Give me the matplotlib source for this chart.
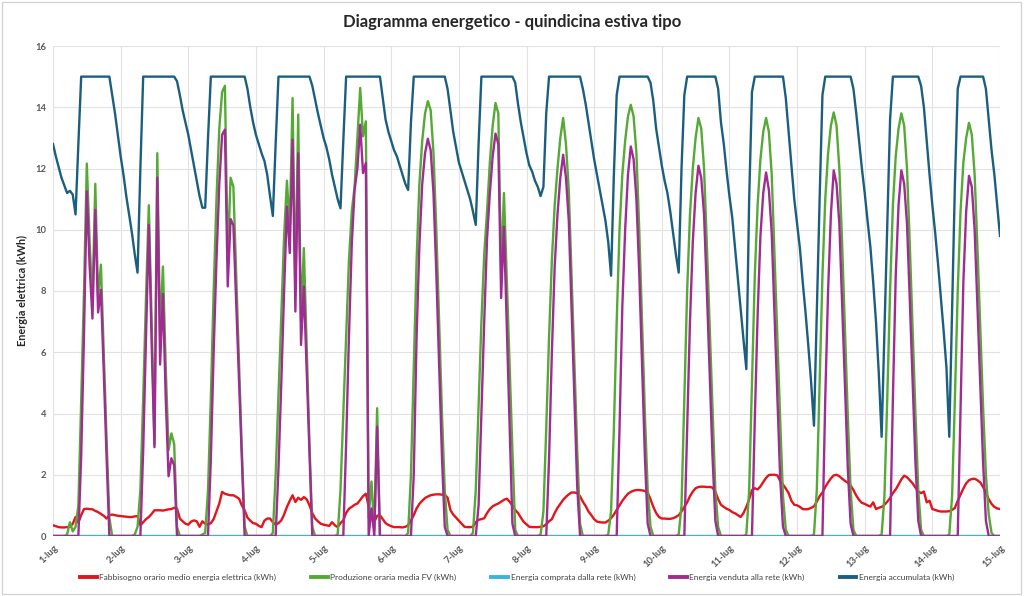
import matplotlib
matplotlib.use("Agg")
import matplotlib.pyplot as plt
from matplotlib.lines import Line2D
from matplotlib.patches import Rectangle

plt.rcParams['font.family'] = ['Lato', 'DejaVu Sans']

giorni = ["1-lug", "2-lug", "3-lug", "4-lug", "5-lug", "6-lug", "7-lug", "8-lug",
          "9-lug", "10-lug", "11-lug", "12-lug", "13-lug", "14-lug", "15-lug"]

# valori orari (kWh), una riga per giorno, ore 0..23
fabbisogno_giorni = [
    [0.35, 0.32, 0.29, 0.28, 0.28, 0.29, 0.30, 0.40, 0.62, 0.44, 0.68, 0.88, 0.89, 0.88, 0.87, 0.82, 0.78, 0.72, 0.66, 0.57, 0.68, 0.70, 0.68, 0.66],
    [0.65, 0.64, 0.63, 0.62, 0.62, 0.64, 0.65, 0.35, 0.45, 0.55, 0.62, 0.72, 0.84, 0.84, 0.84, 0.83, 0.85, 0.87, 0.88, 0.92, 0.90, 0.57, 0.48, 0.40],
    [0.37, 0.47, 0.51, 0.48, 0.30, 0.48, 0.40, 0.38, 0.42, 0.55, 0.80, 1.06, 1.44, 1.38, 1.35, 1.33, 1.33, 1.28, 1.22, 1.00, 0.84, 0.60, 0.50, 0.42],
    [0.40, 0.33, 0.29, 0.50, 0.57, 0.57, 0.45, 0.37, 0.42, 0.51, 0.70, 0.95, 1.15, 1.33, 1.11, 1.25, 1.18, 1.27, 1.20, 1.00, 0.75, 0.57, 0.48, 0.40],
    [0.37, 0.35, 0.33, 0.45, 0.35, 0.29, 0.42, 0.51, 0.75, 0.89, 0.95, 1.02, 1.06, 1.18, 1.30, 1.38, 0.96, 0.60, 0.46, 0.66, 0.68, 0.55, 0.42, 0.36],
    [0.32, 0.29, 0.29, 0.29, 0.28, 0.30, 0.35, 0.50, 0.68, 0.90, 1.05, 1.15, 1.24, 1.29, 1.33, 1.35, 1.36, 1.36, 1.35, 1.35, 1.25, 0.85, 0.70, 0.60],
    [0.50, 0.40, 0.30, 0.29, 0.29, 0.30, 0.45, 0.53, 0.55, 0.58, 0.75, 0.88, 0.97, 1.02, 1.06, 1.12, 1.18, 1.22, 1.12, 1.00, 0.85, 0.75, 0.60, 0.46],
    [0.38, 0.30, 0.29, 0.29, 0.29, 0.30, 0.32, 0.38, 0.48, 0.55, 0.75, 0.92, 1.05, 1.18, 1.28, 1.36, 1.42, 1.42, 1.40, 1.30, 1.12, 0.98, 0.80, 0.68],
    [0.55, 0.47, 0.45, 0.44, 0.44, 0.50, 0.58, 0.70, 0.85, 1.00, 1.15, 1.27, 1.38, 1.44, 1.48, 1.50, 1.50, 1.49, 1.47, 1.42, 1.20, 0.95, 0.75, 0.62],
    [0.57, 0.57, 0.56, 0.56, 0.58, 0.62, 0.68, 0.80, 0.95, 1.10, 1.30, 1.45, 1.56, 1.60, 1.61, 1.61, 1.60, 1.60, 1.58, 1.45, 1.20, 1.02, 0.95, 0.89],
    [0.85, 0.78, 0.74, 0.68, 0.62, 0.75, 0.95, 1.20, 1.50, 1.56, 1.52, 1.62, 1.76, 1.90, 1.99, 2.00, 2.00, 1.98, 1.80, 1.68, 1.55, 1.40, 1.15, 1.02],
    [1.00, 0.95, 0.88, 0.87, 0.88, 0.92, 0.97, 1.12, 1.30, 1.42, 1.60, 1.75, 1.88, 1.98, 2.00, 1.95, 1.87, 1.80, 1.74, 1.65, 1.50, 1.32, 1.18, 1.08],
    [1.05, 1.00, 0.96, 1.10, 0.88, 0.92, 0.95, 1.02, 1.12, 1.24, 1.40, 1.52, 1.68, 1.85, 1.97, 1.92, 1.82, 1.72, 1.58, 1.45, 1.40, 1.45, 1.10, 1.15],
    [0.88, 0.85, 0.82, 0.80, 0.80, 0.80, 0.81, 0.85, 0.92, 1.15, 1.35, 1.55, 1.72, 1.82, 1.86, 1.87, 1.82, 1.75, 1.60, 1.42, 1.20, 1.05, 0.95, 0.90],
]
fabbisogno_fine = 0.88

produzione_giorni = [
    [0, 0, 0, 0, 0, 0.05, 0.45, 0.15, 0.3, 1.0, 4.4, 8.0, 12.16, 9.6, 7.6, 11.5, 7.8, 8.86, 6.0, 3.2, 0.6, 0, 0, 0],
    [0, 0, 0, 0, 0, 0.05, 0.3, 1.5, 4.5, 7.8, 10.8, 7.0, 3.0, 12.5, 6.6, 8.8, 5.5, 2.8, 3.35, 3.0, 0.3, 0, 0, 0],
    [0, 0, 0, 0, 0, 0.05, 0.1, 1.5, 4.5, 8.0, 11.0, 13.3, 14.5, 14.7, 9.0, 11.7, 11.4, 8.5, 5.7, 2.8, 0.3, 0, 0, 0],
    [0, 0, 0, 0, 0, 0, 0.1, 2.0, 4.6, 7.3, 9.8, 11.6, 10.0, 14.3, 8.0, 13.76, 7.0, 9.4, 6.2, 3.0, 0.3, 0, 0, 0],
    [0, 0, 0, 0, 0, 0.05, 1.5, 4.0, 6.5, 9.0, 10.6, 11.4, 13.0, 14.63, 13.05, 13.54, 0.6, 1.78, 0.2, 4.17, 0, 0, 0, 0],
    [0, 0, 0, 0, 0, 0, 0.1, 2.0, 5.5, 9.0, 11.5, 12.9, 13.8, 14.2, 13.9, 12.5, 10.0, 7.0, 4.0, 1.5, 0.2, 0, 0, 0],
    [0, 0, 0, 0, 0, 0.1, 1.5, 4.3, 7.0, 9.2, 10.6, 12.2, 13.4, 14.14, 13.8, 8.6, 11.2, 8.4, 5.6, 2.8, 0.2, 0, 0, 0],
    [0, 0, 0, 0, 0, 0.05, 0.8, 3.5, 6.5, 9.0, 10.8, 12.0, 13.0, 13.65, 12.8, 11.3, 8.5, 5.6, 2.8, 0.4, 0, 0, 0, 0],
    [0, 0, 0, 0, 0, 0.05, 0.8, 3.5, 7.0, 10.0, 11.8, 12.9, 13.7, 14.08, 13.7, 12.5, 10.0, 7.0, 4.0, 1.5, 0.3, 0, 0, 0],
    [0, 0, 0, 0, 0, 0, 0.05, 1.0, 4.5, 8.0, 10.5, 12.0, 13.0, 13.65, 13.3, 12.0, 9.5, 6.8, 4.0, 1.5, 0.3, 0, 0, 0],
    [0, 0, 0, 0, 0, 0, 0.05, 1.5, 5.0, 8.5, 10.8, 12.3, 13.2, 13.65, 13.2, 11.8, 9.2, 6.5, 3.8, 1.3, 0.2, 0, 0, 0],
    [0, 0, 0, 0, 0, 0, 0.05, 1.5, 5.0, 8.5, 11.0, 12.5, 13.4, 13.83, 13.4, 12.0, 9.5, 6.7, 3.9, 1.5, 0.2, 0, 0, 0],
    [0, 0, 0, 0, 0, 0, 0.05, 1.3, 4.5, 8.0, 10.8, 12.4, 13.3, 13.8, 13.4, 12.0, 9.5, 6.7, 4.0, 1.5, 0.2, 0, 0, 0],
    [0, 0, 0, 0, 0, 0, 0.05, 1.3, 4.5, 8.0, 10.6, 12.2, 13.0, 13.49, 13.1, 11.8, 9.4, 6.8, 4.2, 2.0, 0.7, 0.1, 0, 0],
]
produzione_fine = 0

venduta_giorni = [
    [0, 0, 0, 0, 0, 0, 0, 0, 0, 0, 2.6, 6.6, 11.25, 8.8, 7.1, 10.65, 7.3, 8.04, 5.4, 2.6, 0, 0, 0, 0],
    [0, 0, 0, 0, 0, 0, 0, 0, 2.8, 6.5, 10.16, 6.3, 2.9, 11.7, 5.6, 7.9, 4.5, 1.95, 2.54, 2.3, 0, 0, 0, 0],
    [0, 0, 0, 0, 0, 0, 0, 0, 2.5, 6.0, 9.0, 11.5, 13.1, 13.27, 8.15, 10.35, 10.15, 7.6, 5.1, 2.5, 0, 0, 0, 0],
    [0, 0, 0, 0, 0, 0, 0, 0, 2.2, 5.0, 8.0, 10.76, 9.24, 12.94, 7.33, 12.5, 6.24, 8.15, 5.4, 2.6, 0, 0, 0, 0],
    [0, 0, 0, 0, 0, 0, 0, 0, 3.0, 6.5, 9.5, 11.3, 12.0, 13.43, 11.85, 12.18, 0, 0.9, 0, 3.57, 0, 0, 0, 0],
    [0, 0, 0, 0, 0, 0, 0, 0, 2.0, 6.5, 9.5, 11.5, 12.5, 12.97, 12.6, 11.2, 8.6, 5.6, 2.6, 0.3, 0, 0, 0, 0],
    [0, 0, 0, 0, 0, 0, 0, 1.0, 4.0, 7.0, 9.7, 11.2, 12.4, 13.14, 12.8, 7.77, 10.1, 6.9, 3.6, 0.4, 0, 0, 0, 0],
    [0, 0, 0, 0, 0, 0, 0, 0, 2.5, 6.0, 8.8, 10.5, 11.7, 12.45, 11.7, 10.3, 7.4, 4.5, 1.6, 0, 0, 0, 0, 0],
    [0, 0, 0, 0, 0, 0, 0, 0, 0, 3.5, 7.5, 10.0, 11.8, 12.72, 12.3, 11.0, 8.6, 5.6, 2.6, 0.4, 0, 0, 0, 0],
    [0, 0, 0, 0, 0, 0, 0, 0, 0, 3.5, 7.0, 9.6, 11.2, 12.09, 11.7, 10.5, 8.0, 5.3, 2.6, 0.5, 0, 0, 0, 0],
    [0, 0, 0, 0, 0, 0, 0, 0, 0, 3.8, 7.2, 9.8, 11.2, 11.87, 11.3, 9.9, 7.2, 4.5, 1.9, 0.3, 0, 0, 0, 0],
    [0, 0, 0, 0, 0, 0, 0, 0, 0, 0, 4.5, 8.0, 10.5, 11.94, 11.5, 10.2, 7.6, 4.9, 2.2, 0.4, 0, 0, 0, 0],
    [0, 0, 0, 0, 0, 0, 0, 0, 0, 0, 4.5, 8.5, 10.8, 11.94, 11.5, 10.2, 7.7, 5.0, 2.4, 0.5, 0, 0, 0, 0],
    [0, 0, 0, 0, 0, 0, 0, 0, 0, 0, 4.2, 8.3, 10.6, 11.76, 11.4, 10.0, 7.5, 4.9, 2.4, 0.5, 0, 0, 0, 0],
]
venduta_fine = 0

accumulata_giorni = [
    [12.8, 12.4, 12.05, 11.7, 11.45, 11.2, 11.27, 11.15, 10.5, 12.8, 15, 15, 15, 15, 15, 15, 15, 15, 15, 15, 15, 14.4, 13.8, 13.1],
    [12.4, 11.8, 11.1, 10.5, 9.9, 9.2, 8.6, 12.0, 15, 15, 15, 15, 15, 15, 15, 15, 15, 15, 15, 15, 14.85, 14.4, 13.9, 13.5],
    [13.1, 12.6, 12.1, 11.6, 11.1, 10.72, 10.72, 13.0, 15, 15, 15, 15, 15, 15, 15, 15, 15, 15, 15, 15, 15, 14.6, 14.0, 13.5],
    [13.1, 12.8, 12.5, 12.25, 11.8, 11.1, 10.45, 12.8, 15, 15, 15, 15, 15, 15, 15, 15, 15, 15, 15, 15, 14.7, 14.25, 13.8, 13.4],
    [13.0, 12.7, 12.3, 11.8, 11.4, 11.0, 10.7, 12.9, 15, 15, 15, 15, 15, 15, 15, 15, 15, 15, 15, 15, 15, 14.3, 13.6, 13.2],
    [12.9, 12.6, 12.4, 12.1, 11.8, 11.5, 11.3, 13.5, 15, 15, 15, 15, 15, 15, 15, 15, 15, 15, 15, 15, 14.6, 13.9, 13.2, 12.7],
    [12.2, 11.9, 11.6, 11.3, 11.0, 10.6, 10.16, 12.8, 15, 15, 15, 15, 15, 15, 15, 15, 15, 15, 15, 15, 14.8, 14.1, 13.5, 13.0],
    [12.5, 12.1, 11.9, 11.6, 11.4, 11.1, 11.4, 13.8, 15, 15, 15, 15, 15, 15, 15, 15, 15, 15, 15, 15, 14.6, 14.1, 13.5, 12.9],
    [12.3, 11.8, 11.3, 10.8, 10.3, 9.6, 8.5, 11.8, 14.4, 15, 15, 15, 15, 15, 15, 15, 15, 15, 15, 15, 14.8, 14.2, 13.3, 12.7],
    [12.1, 11.6, 11.2, 10.6, 9.9, 9.2, 8.6, 12.0, 14.4, 15, 15, 15, 15, 15, 15, 15, 15, 15, 15, 15, 14.6, 13.5, 12.8, 11.9],
    [11.1, 10.4, 9.4, 8.4, 7.4, 6.4, 5.45, 11.0, 14.5, 15, 15, 15, 15, 15, 15, 15, 15, 15, 15, 15, 14.3, 13.2, 12.1, 11.0],
    [10.2, 9.4, 8.3, 7.3, 6.2, 5.0, 3.6, 7.3, 11.0, 14.4, 15, 15, 15, 15, 15, 15, 15, 15, 15, 15, 14.6, 13.8, 12.9, 12.0],
    [11.2, 10.3, 9.45, 8.3, 7.0, 5.3, 3.24, 6.7, 10.2, 13.6, 15, 15, 15, 15, 15, 15, 15, 15, 15, 15, 14.7, 14.0, 12.9, 11.8],
    [10.8, 9.9, 8.9, 7.8, 6.7, 5.5, 3.24, 7.3, 11.5, 14.6, 15, 15, 15, 15, 15, 15, 15, 15, 15, 14.6, 13.6, 12.6, 11.8, 10.8],
]
accumulata_fine = 9.8


def unisci(giorni_valori, fine):
    return [v for g in giorni_valori for v in g] + [fine]


fabbisogno = unisci(fabbisogno_giorni, fabbisogno_fine)
produzione = unisci(produzione_giorni, produzione_fine)
venduta = unisci(venduta_giorni, venduta_fine)
accumulata = unisci(accumulata_giorni, accumulata_fine)
comprata = [0.0] * len(fabbisogno)  # mai energia comprata
ore = list(range(len(fabbisogno)))

serie = [
    ("Fabbisogno orario medio energia elettrica (kWh)", fabbisogno, "#E3151B"),
    ("Produzione oraria media FV (kWh)", produzione, "#55A935"),
    ("Energia comprata dalla rete (kWh)", comprata, "#3BB4DC"),
    ("Energia venduta alla rete (kWh)", venduta, "#A02B93"),
    ("Energia accumulata (kWh)", accumulata, "#1B5F80"),
]

fig = plt.figure(figsize=(10.24, 5.96), dpi=100)
ax = fig.add_axes([53 / 1024, 60 / 596, 947 / 1024, 490 / 596])

for i, (nome, valori, colore) in enumerate(serie):
    ax.plot(ore, valori, color=colore, lw=1.7, zorder=3 + i, solid_joinstyle='round')

ax.set_xlim(0, 24 * (len(giorni) - 1))
ax.set_ylim(0, 16)
ax.set_yticks(range(0, 17, 2))
ax.set_xticks([24 * i for i in range(len(giorni))])
ax.set_xticklabels(giorni, rotation=45, ha='right', rotation_mode='anchor')
ax.grid(True, color='#e2e2e2', lw=0.8, zorder=0)
for s in ax.spines.values():
    s.set_visible(False)
ax.tick_params(length=0, labelsize=6.8, labelcolor='#595959', pad=5)
for t in ax.get_yticklabels() + ax.get_xticklabels():
    t.set_fontweight('bold')

ax.set_ylabel("Energia elettrica (kWh)", fontsize=7.8, fontweight='bold', color='#262626', labelpad=5)

fig.text(0.5, 1 - 22 / 596, "Diagramma energetico - quindicina estiva tipo",
         ha='center', va='center', fontsize=12, fontweight='bold', color='#262626')

maniglie = [Line2D([], [], color=c, lw=2.8) for _, _, c in serie]
fig.legend(maniglie, [n for n, _, _ in serie], loc='center', bbox_to_anchor=(0.505, 1 - 577 / 596),
           ncol=5, frameon=False, fontsize=6.0, handlelength=2.0, handletextpad=0.3,
           columnspacing=4.2, labelcolor='#404040')

fig.patches.append(Rectangle((0.002, 0.003), 0.995, 0.994, transform=fig.transFigure,
                             fill=False, ec='#d0d0d0', lw=0.9))

fig.savefig("out.png", dpi=100, facecolor='white')
